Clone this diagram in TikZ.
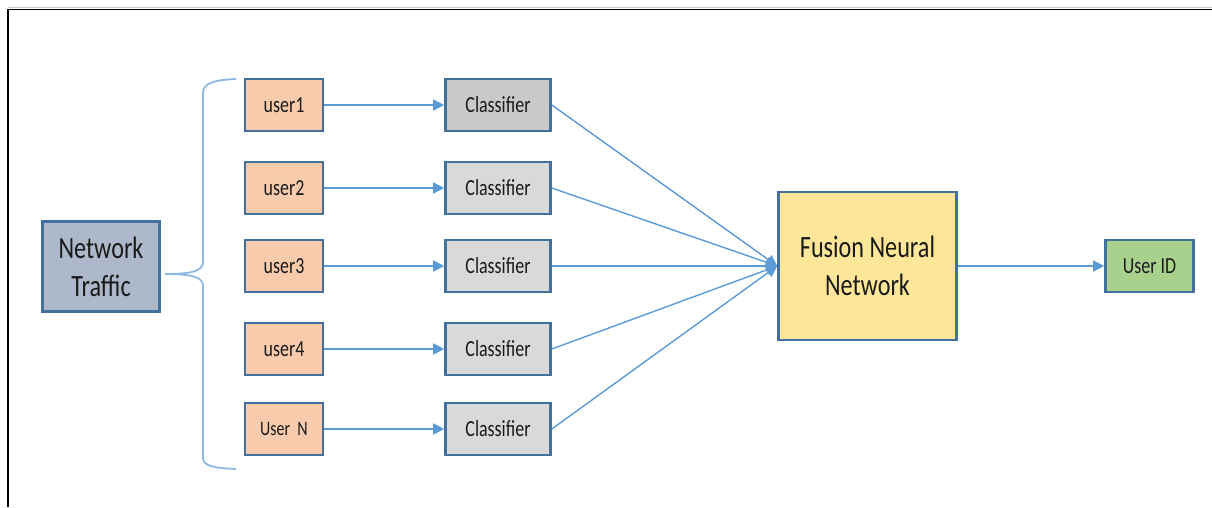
\documentclass[tikz,border=0pt]{standalone}
\usepackage{fontspec}
\setmainfont{Carlito}[FakeStretch=0.78]
\usetikzlibrary{arrows.meta}

\definecolor{boxline}{HTML}{41719C}
\definecolor{link}{HTML}{5B9BD5}
\definecolor{bracecol}{HTML}{8DB8E2}
\definecolor{trafficfill}{HTML}{ADB9CA}
\definecolor{userfill}{HTML}{F8CBAD}
\definecolor{clsdark}{HTML}{C9C9C9}
\definecolor{clsfill}{HTML}{D9D9D9}
\definecolor{fusionfill}{HTML}{FFE699}
\definecolor{idfill}{HTML}{A9D18E}
\definecolor{ink}{HTML}{1A1A1A}

\tikzset{
  box/.style={draw=boxline, line width=2.6pt, rectangle, inner sep=0pt,
    text=ink, align=center},
  bigtext/.style={font=\fontsize{31}{38}\selectfont},
  smalltext/.style={font=\fontsize{23}{27}\selectfont},
  userbox/.style={box, smalltext, fill=userfill, minimum width=78pt, minimum height=52pt},
  clsbox/.style={box, smalltext, fill=clsfill, minimum width=105pt, minimum height=52pt},
  link/.style={draw=link, line width=1.4pt,
    -{Triangle[length=11pt,width=11pt]}},
}

\begin{document}
\begin{tikzpicture}[x=1pt, y=-1pt]
  \useasboundingbox (0,0) rectangle (1212,507);

  % outer frame: top and left edges only
  \draw[gray!40, line width=1pt] (8,7.5) -- (1212,7.5);
  \draw[black, line width=1.3pt] (8,507) -- (8,9.5) -- (1212,9.5);

  % source
  \node[box, bigtext, fill=trafficfill, minimum width=117pt, minimum height=90pt]
    (traffic) at (101,266.5) {Network\\Traffic};

  % brace grouping the users
  \draw[bracecol, line width=1.8pt]
    (236,79) .. controls (214,80) and (203,83) .. (203,93)
    -- (203,262) .. controls (203,271) and (192,274) .. (165,274)
    .. controls (192,274) and (203,277) .. (203,286)
    -- (203,458) .. controls (203,466) and (214,468) .. (236,469);

  % users
  \node[userbox] (u1) at (284,105) {user1};
  \node[userbox] (u2) at (284,188) {user2};
  \node[userbox] (u3) at (284,266) {user3};
  \node[userbox] (u4) at (284,349) {user4};
  \node[userbox, font=\fontsize{20.5}{24}\selectfont] (u5) at (284,429) {User~~N};

  % classifiers
  \node[clsbox, fill=clsdark] (c1) at (498,105) {Classifier};
  \node[clsbox] (c2) at (498,188) {Classifier};
  \node[clsbox] (c3) at (498,266) {Classifier};
  \node[clsbox] (c4) at (498,349) {Classifier};
  \node[clsbox] (c5) at (498,429) {Classifier};

  % fusion and output
  \node[box, bigtext, fill=fusionfill, minimum width=178pt, minimum height=148pt]
    (fusion) at (867.5,266) {Fusion Neural\\Network};
  \node[box, smalltext, fill=idfill, minimum width=88pt, minimum height=52pt]
    (uid) at (1149.5,266) {User ID};

  % connectors
  \foreach \i in {1,...,5} {
    \draw[link] (u\i.east) -- (c\i.west);
    \draw[link] (c\i.east) -- (fusion.west);
  }
  \draw[link] (fusion.east) -- (uid.west);
\end{tikzpicture}
\end{document}
